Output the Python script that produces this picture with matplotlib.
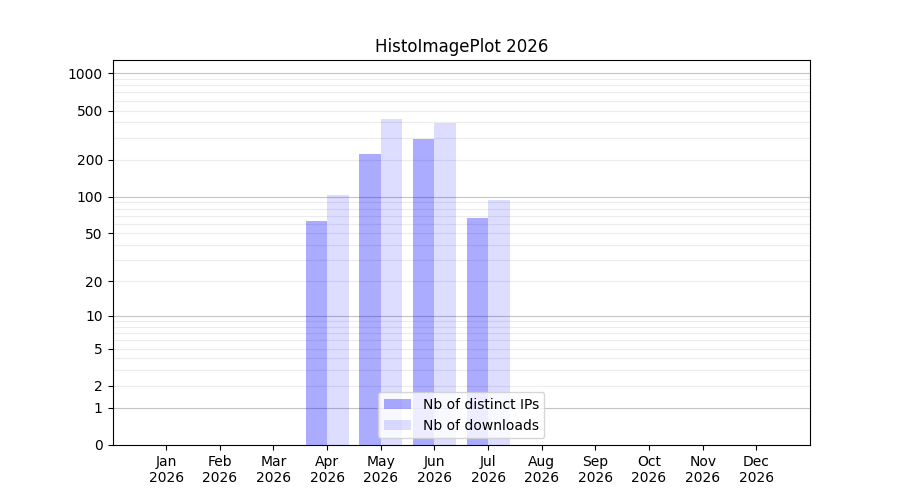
import numpy as np
import matplotlib.pyplot as plt

year = 2026
months = ["Jan", "Feb", "Mar", "Apr", "May", "Jun",
          "Jul", "Aug", "Sep", "Oct", "Nov", "Dec"]
distinct_ips = [0, 0, 0, 63, 221, 292, 67, 0, 0, 0, 0, 0]
downloads = [0, 0, 0, 103, 425, 394, 94, 0, 0, 0, 0, 0]
ytick_values = [0, 1, 2, 5, 10, 20, 50, 100, 200, 500, 1000]


def forward(y):
    return np.log10(np.asarray(y, dtype=float) + 1)


def inverse(y):
    return 10 ** np.asarray(y, dtype=float) - 1


fig, ax = plt.subplots(figsize=(9, 5), dpi=100)
x = np.arange(len(months))

ax.bar(x, distinct_ips, width=-0.4, align="edge", color="blue", alpha=0.33,
       label="Nb of distinct IPs", zorder=2)
ax.bar(x, downloads, width=0.4, align="edge", color="blue", alpha=0.133,
       label="Nb of downloads", zorder=2)

ax.set_yscale("function", functions=(forward, inverse))
ax.set_ylim(0, 1280)
ax.set_xlim(-1, 12)

# grid: strong lines at powers of ten, light ones in between
for p in range(4):
    ax.axhline(10 ** p, color="#c4c4c4", lw=0.8, zorder=0)
    if p < 3:
        for k in range(2, 10):
            ax.axhline(k * 10 ** p, color="#ececec", lw=0.8, zorder=0)

ax.set_yticks(ytick_values)
ax.set_yticklabels([str(v) for v in ytick_values])
ax.minorticks_off()
ax.set_xticks(x)
ax.set_xticklabels([f"{m}\n{year}" for m in months])

ax.set_title(f"HistoImagePlot {year}")
ax.legend(loc="lower center")

fig.savefig("out.png")
